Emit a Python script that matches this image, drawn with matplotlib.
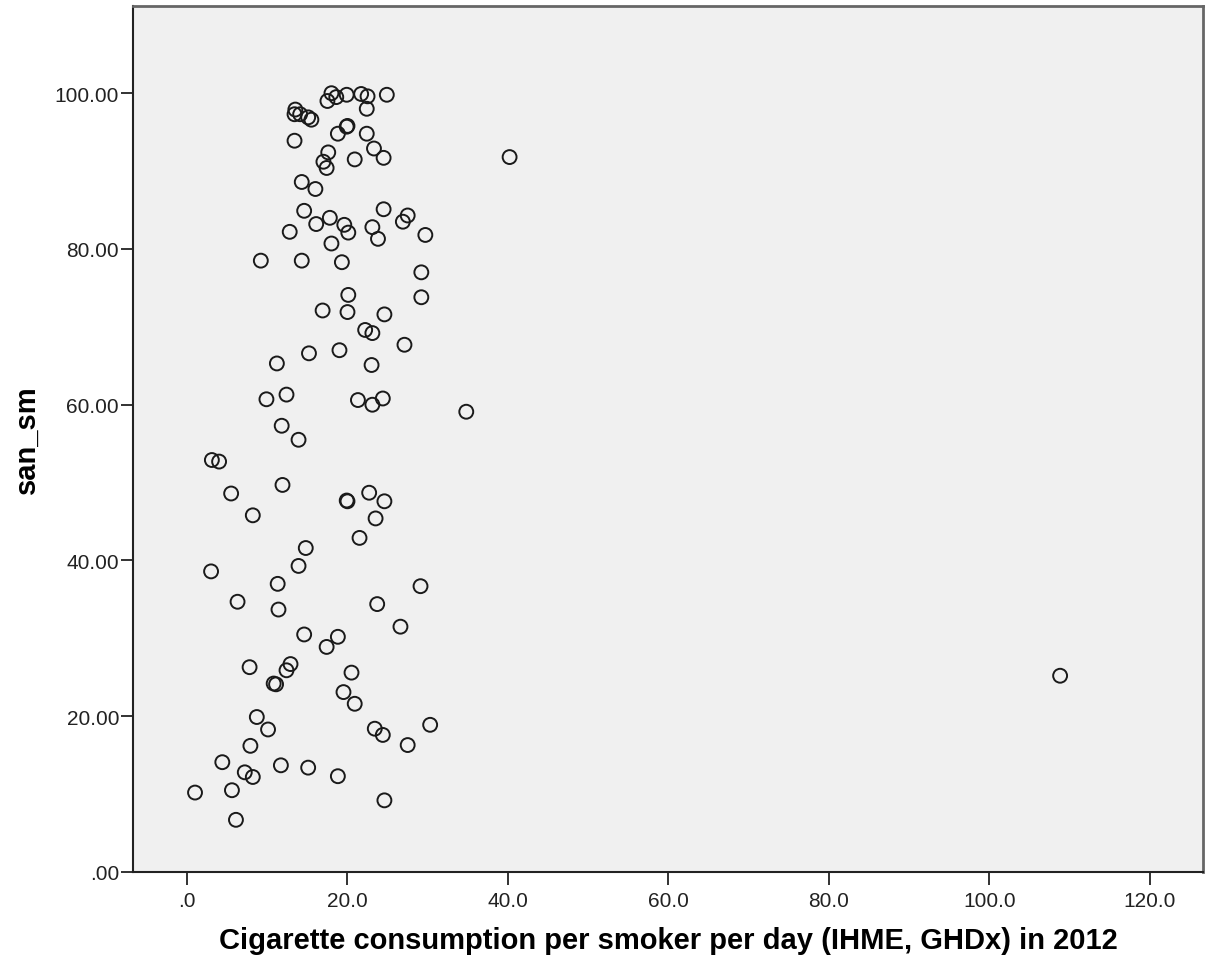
import numpy as np
import matplotlib.pyplot as plt

plt.rcParams['font.family'] = ['Liberation Sans', 'DejaVu Sans']

# cigarettes per smoker per day (x) vs san_sm (y), one point per country
cig_per_day = [
    18.0, 18.6, 19.9, 17.5, 21.7, 22.5, 24.9, 22.4, 13.5, 13.4, 14.1, 15.1, 15.5,
    19.9, 20.0, 18.8, 22.4, 13.4, 17.6, 17.0, 17.4, 23.3, 24.5, 20.9, 40.2,
    14.3, 16.0, 14.6, 24.5, 17.8, 16.1, 19.6, 20.1, 23.1, 23.8, 27.5, 26.9,
    29.7, 12.8, 18.0, 9.2, 14.3, 19.3, 29.2, 20.1, 29.2, 16.9, 20.0, 24.6,
    22.2, 23.1, 27.1, 15.2, 19.0, 23.0, 11.2, 9.9, 12.4, 21.3, 23.1, 24.4,
    34.8, 11.8, 13.9, 3.1, 4.0, 11.9, 5.5, 19.9, 20.0, 22.7, 24.6, 8.2,
    23.5, 21.5, 14.8, 13.9, 3.0, 11.3, 6.3, 11.4, 29.1, 23.7, 26.6, 14.6,
    18.8, 17.4, 7.8, 12.9, 12.4, 10.8, 11.1, 20.5, 19.5, 20.9, 108.8, 8.7,
    10.1, 23.4, 24.4, 30.3, 27.5, 7.9, 4.4, 7.2, 8.2, 11.7, 15.1, 18.8,
    1.0, 5.6, 6.1, 24.6,
]
san_sm = [
    100.0, 99.5, 99.8, 99.0, 99.9, 99.6, 99.8, 98.0, 97.9, 97.3, 97.3, 96.9, 96.6,
    95.7, 95.8, 94.8, 94.8, 93.9, 92.4, 91.2, 90.4, 92.9, 91.7, 91.5, 91.8,
    88.6, 87.7, 84.9, 85.1, 84.0, 83.2, 83.1, 82.1, 82.8, 81.3, 84.3, 83.5,
    81.8, 82.2, 80.7, 78.5, 78.5, 78.3, 77.0, 74.1, 73.8, 72.1, 71.9, 71.6,
    69.6, 69.2, 67.7, 66.6, 67.0, 65.1, 65.3, 60.7, 61.3, 60.6, 60.0, 60.8,
    59.1, 57.3, 55.5, 52.9, 52.7, 49.7, 48.6, 47.7, 47.6, 48.7, 47.6, 45.8,
    45.4, 42.9, 41.6, 39.3, 38.6, 37.0, 34.7, 33.7, 36.7, 34.4, 31.5, 30.5,
    30.2, 28.9, 26.3, 26.7, 25.9, 24.2, 24.1, 25.6, 23.1, 21.6, 25.2, 19.9,
    18.3, 18.4, 17.6, 18.9, 16.3, 16.2, 14.1, 12.8, 12.2, 13.7, 13.4, 12.3,
    10.2, 10.5, 6.7, 9.2,
]

x_ticks = [0, 20, 40, 60, 80, 100, 120]
x_labels = ['.0', '20.0', '40.0', '60.0', '80.0', '100.0', '120.0']
y_ticks = [0, 20, 40, 60, 80, 100]
y_labels = ['.00', '20.00', '40.00', '60.00', '80.00', '100.00']

fig = plt.figure(figsize=(12.09, 9.70), dpi=100)
ax = fig.add_axes([0.110, 0.100, 0.885, 0.8928])
ax.set_facecolor('#f0f0f0')

ax.scatter(cig_per_day, san_sm, s=100, facecolors='none', edgecolors='#1a1a1a',
           linewidths=1.4, zorder=3)

ax.set_xlim(-6.73, 126.6)
ax.set_ylim(0, 111.2)

ax.set_xticks(x_ticks)
ax.set_xticklabels(x_labels)
ax.set_yticks(y_ticks)
ax.set_yticklabels(y_labels)
ax.tick_params(axis='x', length=9, width=1.3, color='#222222', pad=5,
               labelsize=15, labelcolor='#222222')
ax.tick_params(axis='y', length=9, width=1.3, color='#222222', pad=1,
               labelsize=15, labelcolor='#222222')

for side in ('left', 'bottom'):
    ax.spines[side].set_color('#222222')
    ax.spines[side].set_linewidth(1.5)
for side in ('top', 'right'):
    ax.spines[side].set_color('#666666')
    ax.spines[side].set_linewidth(2.0)

ax.set_xlabel('Cigarette consumption per smoker per day (IHME, GHDx) in 2012',
              fontsize=21, fontweight='bold', labelpad=11)
ax.set_ylabel('san_sm', fontsize=21, fontweight='bold', labelpad=10)

fig.savefig('out.png', dpi=100)
